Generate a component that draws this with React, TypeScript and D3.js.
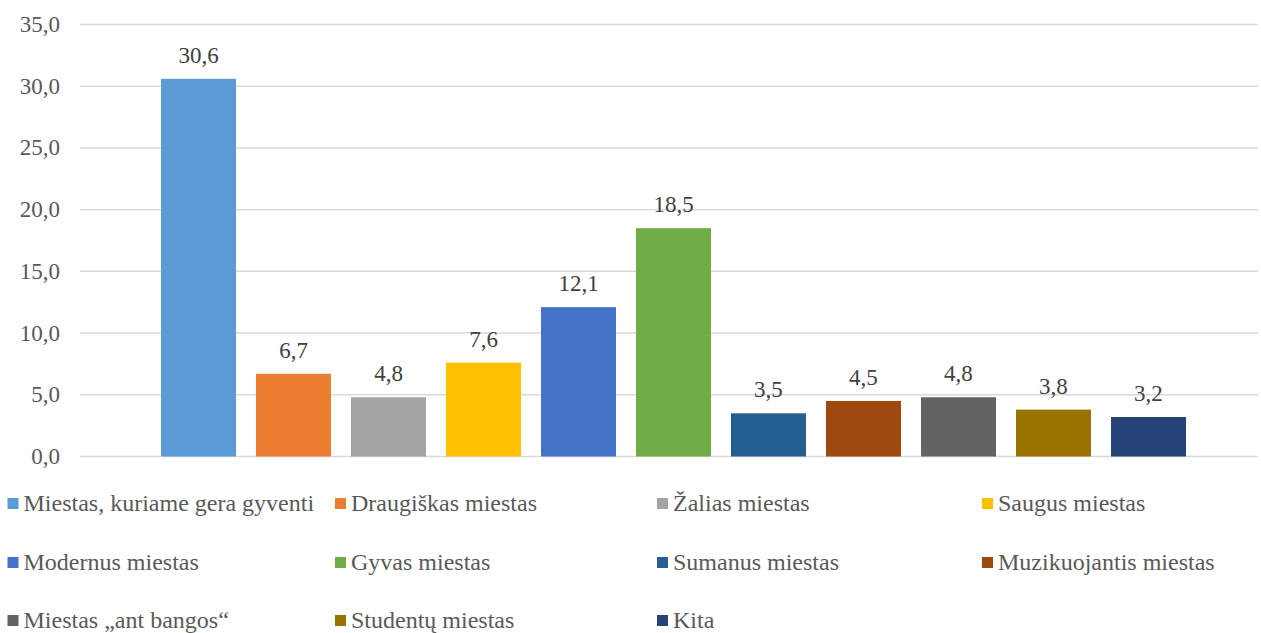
import React from "react";
import * as d3 from "d3";

const categories = [
  "Miestas, kuriame gera gyventi",
  "Draugiškas miestas",
  "Žalias miestas",
  "Saugus miestas",
  "Modernus miestas",
  "Gyvas miestas",
  "Sumanus miestas",
  "Muzikuojantis miestas",
  "Miestas „ant bangos“",
  "Studentų miestas",
  "Kita",
];
const values = [30.6, 6.7, 4.8, 7.6, 12.1, 18.5, 3.5, 4.5, 4.8, 3.8, 3.2];
const colors = [
  "#5B9BD5", "#ED7D31", "#A5A5A5", "#FFC000", "#4472C4", "#70AD47",
  "#255E91", "#9E480E", "#636363", "#997300", "#264478",
];
const yTicks = [0, 5, 10, 15, 20, 25, 30, 35];

const W = 1261;
const H = 633;
const FONT = "Liberation Serif, Times New Roman, serif";

export default function App() {
  const y = d3.scaleLinear().domain([0, 35]).range([456.5, 24.5]);
  const x = d3
    .scaleBand<string>()
    .domain(categories)
    .range([151, 1196])
    .paddingInner(0.2105)
    .paddingOuter(0.1053);
  const fmt = (v: number) => v.toFixed(1).replace(".", ",");
  const legendCols = [7.5, 335, 657, 982];
  const legendRows = [511, 570, 628];
  const numStyle: React.CSSProperties = { fontFamily: FONT, fontSize: "23px" };
  const legStyle: React.CSSProperties = { fontFamily: FONT, fontSize: "24px" };

  return (
    <svg
      width={W}
      height={H}
      style={{ position: "absolute", left: 0, top: 0, background: "#fff", fontFamily: FONT }}
    >
      {yTicks.map((t) => (
        <g key={t}>
          <line x1={80} x2={1258} y1={y(t)} y2={y(t)} stroke="#D9D9D9" strokeWidth={1.5} />
          <text x={60} y={y(t) + 7.5} textAnchor="end" fill="#595959" style={numStyle}>
            {fmt(t)}
          </text>
        </g>
      ))}
      {categories.map((c, i) => (
        <g key={c}>
          <rect
            x={x(c)}
            y={y(values[i])}
            width={x.bandwidth()}
            height={y(0) - y(values[i])}
            fill={colors[i]}
          />
          <text
            x={(x(c) as number) + x.bandwidth() / 2}
            y={y(values[i]) - 16}
            textAnchor="middle"
            fill="#404040"
            style={numStyle}
          >
            {fmt(values[i])}
          </text>
        </g>
      ))}
      {categories.map((c, i) => {
        const col = i % 4;
        const row = Math.floor(i / 4);
        const lx = legendCols[col];
        const ly = legendRows[row];
        return (
          <g key={"l" + c}>
            <rect x={lx} y={ly - 13} width={11} height={11} fill={colors[i]} />
            <text x={lx + 16} y={ly} fill="#595959" style={legStyle}>
              {c}
            </text>
          </g>
        );
      })}
    </svg>
  );
}
